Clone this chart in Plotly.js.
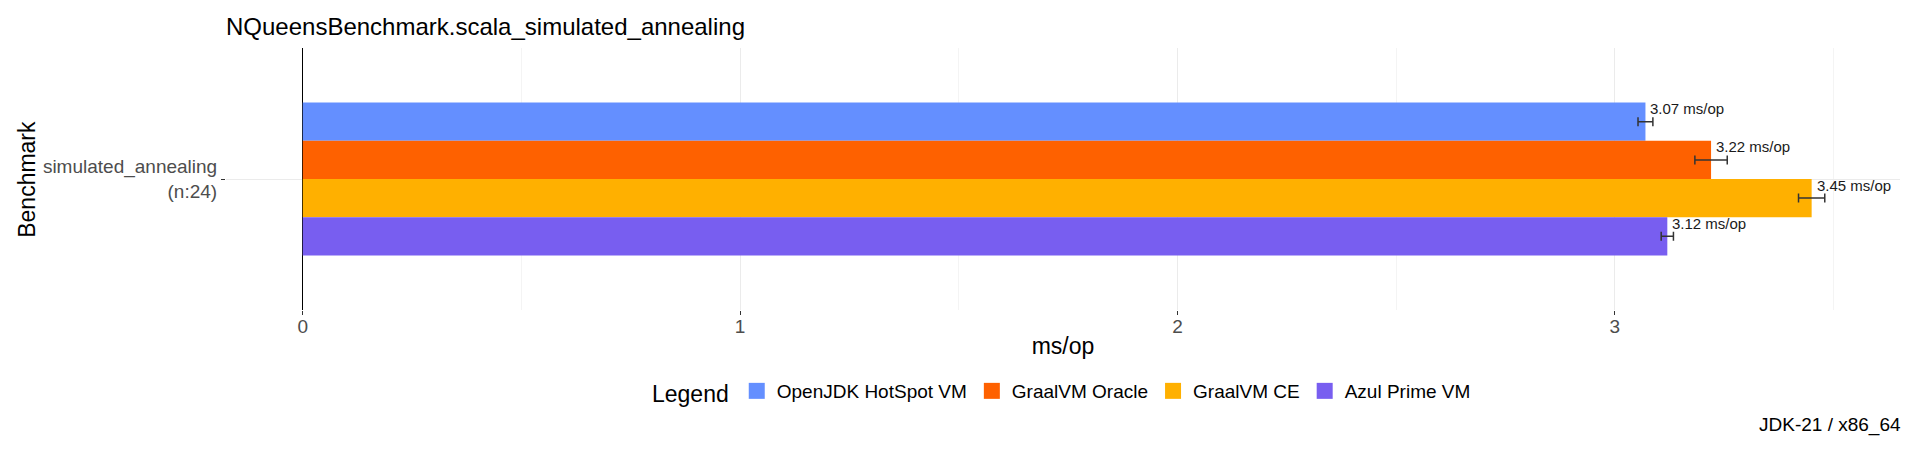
<!DOCTYPE html>
<html>
<head>
<meta charset="utf-8">
<script src="https://cdn.plot.ly/plotly-3.0.1.min.js"></script>
<style>html,body{margin:0;padding:0;background:#fff;}#chart{width:1920px;height:454px;}</style>
</head>
<body>
<div id="chart"></div>
<script>
// ---- data ----
const categories = ["simulated_annealing<br>(n:24)"];
const vms = ["OpenJDK HotSpot VM", "GraalVM Oracle", "GraalVM CE", "Azul Prime VM"];
const scores = [3.07, 3.22, 3.45, 3.12];
const errors = [0.017, 0.037, 0.030, 0.014];
const colors = ["#648FFF", "#FE6100", "#FFB000", "#785EF0"];
const unit = "ms/op";
const yTitle = "Benchmark";
const chartTitle = "NQueensBenchmark.scala_simulated_annealing";
const caption = "JDK-21 / x86_64";

const FONT = "Liberation Sans, Arial, sans-serif";
const bargap = 0.3;

const traces = [];
vms.forEach((vm, i) => {
  traces.push({
    type: "bar",
    orientation: "h",
    name: vm,
    y: categories,
    x: [scores[i]],
    marker: {color: colors[i], line: {width: 0}},
    error_x: {type: "data", array: [errors[i]], visible: true, color: "#333333", thickness: 1.5, width: 4.5},
    showlegend: false,
    hoverinfo: "x+name"
  });
});
// legend entries (square swatches)
vms.forEach((vm, i) => {
  traces.push({
    type: "scatter",
    mode: "markers",
    name: vm,
    x: [null], y: [null],
    marker: {color: colors[i], symbol: "square", size: 16},
    showlegend: true,
    hoverinfo: "skip"
  });
});

// value labels positioned at each bar's center via group geometry
const groupW = 1 - bargap;
const n = vms.length;
const annotations = vms.map((vm, i) => ({
  xref: "x", yref: "y",
  x: scores[i],
  y: -groupW / 2 + groupW / (2 * n) + i * groupW / n,
  text: scores[i].toFixed(2) + " " + unit,
  showarrow: false,
  xanchor: "left", yanchor: "middle",
  xshift: 3, yshift: 13,
  font: {family: FONT, size: 15, color: "#1a1a1a"}
}));
annotations.push({
  xref: "paper", yref: "paper",
  x: 1, y: -0.439,
  xanchor: "right", yanchor: "middle",
  xshift: 3,
  text: caption, showarrow: false,
  font: {family: FONT, size: 19, color: "#000"}
});
annotations.push({
  xref: "paper", yref: "paper",
  x: -0.119, y: 0.5,
  xanchor: "center", yanchor: "middle",
  textangle: -90,
  text: yTitle, showarrow: false,
  font: {family: FONT, size: 23, color: "#000"}
});

const layout = {
  width: 1920, height: 454,
  paper_bgcolor: "#fff", plot_bgcolor: "#fff",
  margin: {l: 226, r: 20, t: 48, b: 144},
  font: {family: FONT, color: "#000"},
  title: {
    text: chartTitle,
    x: 0, xref: "paper", xanchor: "left",
    y: 1 - 27 / 454, yref: "container", yanchor: "middle",
    font: {family: FONT, size: 24, color: "#000"}
  },
  barmode: "group",
  bargap: bargap,
  xaxis: {
    range: [-0.1754, 3.652],
    dtick: 1, tick0: 0,
    showgrid: true, gridcolor: "#EBEBEB", gridwidth: 1,
    minor: {dtick: 0.5, showgrid: true, gridcolor: "#F4F4F4", gridwidth: 1, ticks: ""},
    zeroline: true, zerolinecolor: "#000", zerolinewidth: 1.5,
    showline: false,
    ticks: "outside", ticklen: 4, tickcolor: "#333", tickwidth: 1,
    ticklabelstandoff: -5,
    tickfont: {family: FONT, size: 19, color: "#4D4D4D"},
    title: {text: unit, font: {family: FONT, size: 23, color: "#000"}, standoff: 2},
    automargin: false, fixedrange: true
  },
  yaxis: {
    type: "category",
    range: [0.6, -0.6],
    showgrid: true, gridcolor: "#EBEBEB", gridwidth: 1,
    zeroline: false, showline: false,
    ticks: "outside", ticklen: 4, tickcolor: "#333", tickwidth: 1,
    tickfont: {family: FONT, size: 19, color: "#4D4D4D"},
    automargin: false, fixedrange: true
  },
  legend: {
    orientation: "h",
    x: 0.5, xanchor: "center", xref: "paper",
    y: -0.313, yanchor: "middle", yref: "paper",
    title: {text: "Legend", side: "left", font: {family: FONT, size: 23, color: "#000"}},
    font: {family: FONT, size: 19, color: "#000"},
    itemsizing: "trace",
    bgcolor: "rgba(0,0,0,0)"
  },
  annotations: annotations,
  showlegend: true
};

Plotly.newPlot("chart", traces, layout, {displayModeBar: false, staticPlot: true});
</script>
</body>
</html>
